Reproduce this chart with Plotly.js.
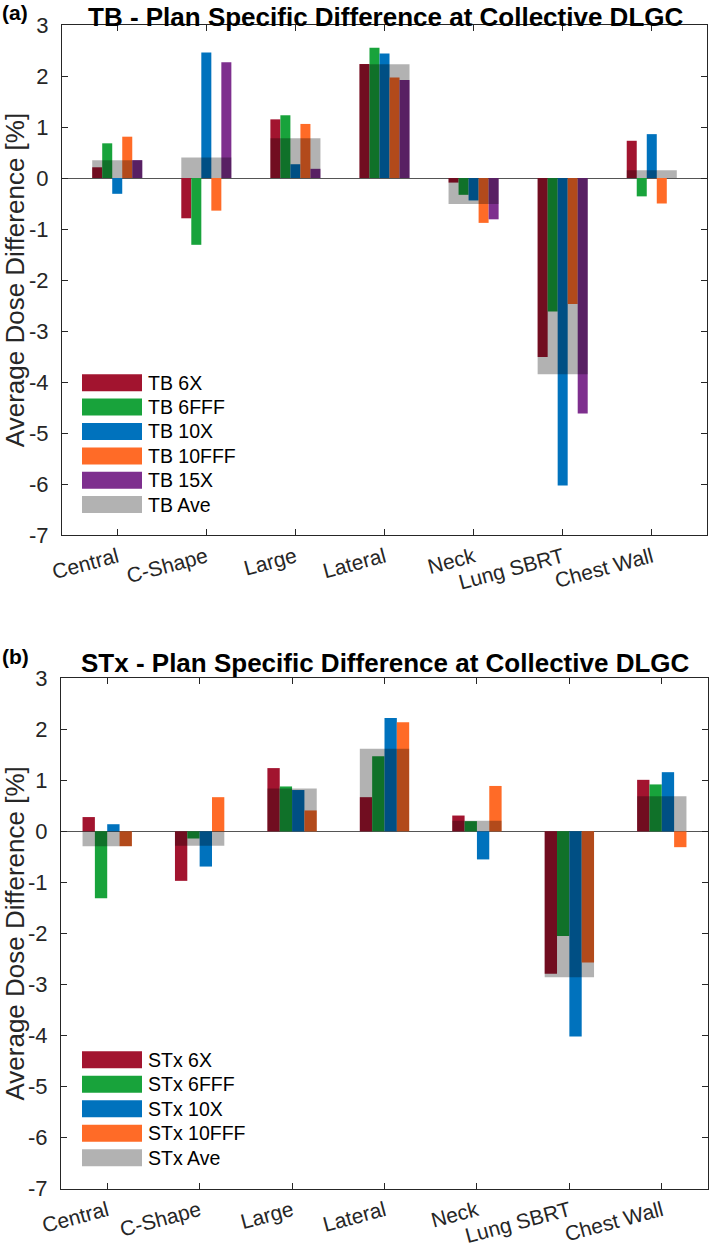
<!DOCTYPE html>
<html>
<head>
<meta charset="utf-8">
<script src="https://cdn.plot.ly/plotly-3.0.1.min.js"></script>
<style>html,body{margin:0;padding:0;background:#fff;}#chart{width:709px;height:1251px;}</style>
</head>
<body>
<div id="chart"></div>
<script>
// ---------- data ----------
const categories = ['Central', 'C-Shape', 'Large', 'Lateral', 'Neck', 'Lung SBRT', 'Chest Wall'];

const tbNames = ['TB 6X', 'TB 6FFF', 'TB 10X', 'TB 10FFF', 'TB 15X'];
const tbAveName = 'TB Ave';
const tb6X    = [0.21, -0.79, 1.15, 2.235, -0.09, -3.51, 0.73];
const tb6FFF  = [0.68, -1.31, 1.23, 2.555, -0.33, -2.62, -0.36];
const tb10X   = [-0.31, 2.46, 0.27, 2.44, -0.44, -6.03, 0.86];
const tb10FFF = [0.81, -0.64, 1.06, 1.97, -0.88, -2.47, -0.50];
const tb15X   = [0.35, 2.27, 0.18, 1.92, -0.81, -4.62, 0];
const tbAve   = [0.35, 0.40, 0.78, 2.23, -0.51, -3.85, 0.15];

const stxNames = ['STx 6X', 'STx 6FFF', 'STx 10X', 'STx 10FFF'];
const stxAveName = 'STx Ave';
const stx6X    = [0.28, -0.97, 1.24, 0.67, 0.31, -2.79, 1.01];
const stx6FFF  = [-1.31, -0.14, 0.88, 1.47, 0.20, -2.05, 0.92];
const stx10X   = [0.14, -0.69, 0.81, 2.22, -0.55, -4.02, 1.16];
const stx10FFF = [-0.29, 0.67, 0.41, 2.14, 0.89, -2.57, -0.31];
const stxAve   = [-0.29, -0.28, 0.84, 1.62, 0.21, -2.86, 0.69];

const yTicks = [3, 2, 1, 0, -1, -2, -3, -4, -5, -6, -7];

// ---------- styles ----------
const W = 709, H = 1251;
const FONT = '"Liberation Sans", Arial, Helvetica, sans-serif';
const colors = ['#A2142F', '#18A33B', '#0072BD', '#FF6B27', '#7E2F8E'];
const aveColor = 'rgba(0,0,0,0.3)';
const axisColor = '#262626';

const px = x => x / W;
const py = y => 1 - y / H;

const traces = [];
function addPanel(seriesList, names, aveVals, aveName, xa, ya, groupW) {
  const n = seriesList.length;
  const bw = groupW / n;
  seriesList.forEach((vals, i) => {
    traces.push({
      type: 'bar', x: categories, y: vals, name: names[i],
      xaxis: xa, yaxis: ya, showlegend: false,
      width: bw, offset: -groupW / 2 + i * bw,
      marker: {color: colors[i], line: {width: 0}},
      hoverinfo: 'x+y+name'
    });
  });
  traces.push({
    type: 'bar', x: categories, y: aveVals, name: aveName,
    xaxis: xa, yaxis: ya, showlegend: false,
    width: groupW, offset: -groupW / 2,
    marker: {color: aveColor, line: {width: 0}},
    hoverinfo: 'x+y+name'
  });
}
addPanel([tb6X, tb6FFF, tb10X, tb10FFF, tb15X], tbNames, tbAve, tbAveName, 'x', 'y', 0.562);
addPanel([stx6X, stx6FFF, stx10X, stx10FFF], stxNames, stxAve, stxAveName, 'x2', 'y2', 0.534);

function xAxis(domain, range, anchor) {
  return {
    domain: domain, range: range, anchor: anchor, type: 'category',
    showline: true, linecolor: axisColor, linewidth: 1, mirror: 'allticks',
    ticks: 'inside', ticklen: 6, tickcolor: axisColor, tickwidth: 1,
    tickangle: -15, tickfont: {family: FONT, size: 21, color: '#262626'}, ticklabelstandoff: 1,
    showgrid: false, zeroline: false, fixedrange: true, automargin: false
  };
}
function yAxis(domain, anchor) {
  return {
    domain: domain, range: [-7, 3], anchor: anchor,
    tickmode: 'array', tickvals: yTicks, ticktext: yTicks.map(String),
    showline: true, linecolor: axisColor, linewidth: 1, mirror: 'allticks',
    ticks: 'inside', ticklen: 6, tickcolor: axisColor, tickwidth: 1,
    tickfont: {family: FONT, size: 22, color: '#262626'}, ticklabelstandoff: 8,
    showgrid: false, zeroline: true, zerolinecolor: '#555555', zerolinewidth: 1,
    fixedrange: true, automargin: false,
    title: {text: 'Average Dose Difference [%]', font: {family: FONT, size: 26, color: '#262626'}, standoff: 0}
  };
}

const shapes = [];
const annotations = [];
function addLegend(names, aveName, rowYs) {
  const all = names.concat([aveName]);
  const cols = colors.slice(0, names.length).concat([aveColor]);
  all.forEach((nm, i) => {
    const cy = rowYs[i];
    shapes.push({type: 'rect', xref: 'paper', yref: 'paper',
      x0: px(82), x1: px(142), y0: py(cy + 8.5), y1: py(cy - 8.5),
      fillcolor: cols[i], line: {width: 0}});
    annotations.push({xref: 'paper', yref: 'paper', x: px(146), y: py(cy),
      xanchor: 'left', yanchor: 'middle', showarrow: false, text: nm,
      font: {family: FONT, size: 19.5, color: '#000'}});
  });
}
addLegend(tbNames, tbAveName, [382.7, 407, 431.5, 456, 480.3, 504.5]);
addLegend(stxNames, stxAveName, [1059.7, 1084.3, 1108.7, 1133.2, 1157.7]);

function addTitle(text, topY) {
  annotations.push({xref: 'paper', yref: 'paper', x: px(385), y: py(topY),
    xanchor: 'center', yanchor: 'top', showarrow: false, text: '<b>' + text + '</b>',
    font: {family: FONT, size: 26, color: '#000'}});
}
addTitle('TB - Plan Specific Difference at Collective DLGC', 0);
addTitle('STx - Plan Specific Difference at Collective DLGC', 646);
annotations.push({xref: 'paper', yref: 'paper', x: px(0), y: py(12), xanchor: 'left', yanchor: 'middle',
  showarrow: false, text: '<b>(a)</b>', font: {family: FONT, size: 21, color: '#000'}});
annotations.push({xref: 'paper', yref: 'paper', x: px(0), y: py(657), xanchor: 'left', yanchor: 'middle',
  showarrow: false, text: '<b>(b)</b>', font: {family: FONT, size: 21, color: '#000'}});

const layout = {
  width: W, height: H,
  margin: {l: 0, r: 0, t: 0, b: 0, pad: 0},
  paper_bgcolor: '#ffffff', plot_bgcolor: '#ffffff',
  barmode: 'overlay', showlegend: false,
  font: {family: FONT, color: '#262626'},
  xaxis: xAxis([px(62), px(707)], [-0.62, 6.62], 'y'),
  yaxis: yAxis([py(535), py(25)], 'x'),
  xaxis2: xAxis([px(61), px(708)], [-0.5, 6.5], 'y2'),
  yaxis2: yAxis([py(1188.5), py(678.3)], 'x2'),
  shapes: shapes,
  annotations: annotations
};

Plotly.newPlot('chart', traces, layout, {staticPlot: true, displayModeBar: false});
</script>
</body>
</html>
